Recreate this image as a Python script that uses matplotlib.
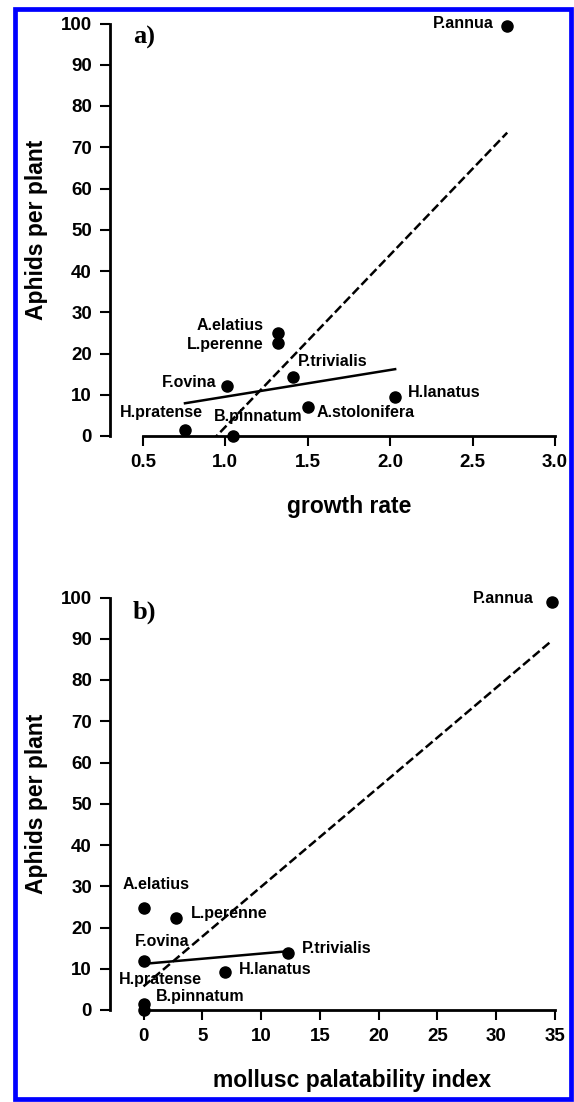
import numpy as np
import matplotlib
matplotlib.use("Agg")
import matplotlib.pyplot as plt
from matplotlib.patches import Rectangle

# panel a) growth rate vs aphids
species_a = ["P.annua", "A.elatius", "L.perenne", "P.trivialis", "F.ovina",
             "H.lanatus", "A.stolonifera", "H.pratense", "B.pinnatum"]
growth_rate = [2.71, 1.32, 1.32, 1.41, 1.01, 2.03, 1.50, 0.755, 1.045]
aphids_a = [99.3, 25.0, 22.5, 14.2, 12.1, 9.5, 7.0, 1.4, 0.0]

# panel b) mollusc palatability vs aphids
species_b = ["P.annua", "A.elatius", "L.perenne", "F.ovina", "P.trivialis",
             "H.lanatus", "H.pratense", "B.pinnatum"]
palatability = [34.75, 0.0, 2.77, 0.0, 12.3, 6.9, 0.0, 0.0]
aphids_b = [99.0, 24.8, 22.4, 11.9, 13.9, 9.3, 1.45, 0.0]

y_ticks = [0, 10, 20, 30, 40, 50, 60, 70, 80, 90, 100]
x_ticks_a = [0.5, 1.0, 1.5, 2.0, 2.5, 3.0]
x_tick_labels_a = ["0.5", "1.0", "1.5", "2.0", "2.5", "3.0"]
x_ticks_b = [0, 5, 10, 15, 20, 25, 30, 35]

# label placement: (dx px, dy px, ha)
label_pos_a = {
    "P.annua": (-13, 3, "right"),
    "A.elatius": (-15, 7, "right"),
    "L.perenne": (-15, -1, "right"),
    "P.trivialis": (5, 16, "left"),
    "F.ovina": (-11, 4, "right"),
    "H.lanatus": (13, 4, "left"),
    "A.stolonifera": (9, -5, "left"),
    "H.pratense": (18, 18, "right"),
    "B.pinnatum": (-19, 19, "left"),
}
label_pos_b = {
    "P.annua": (-18, 3, "right"),
    "A.elatius": (13, 23, "center"),
    "L.perenne": (15, 4, "left"),
    "F.ovina": (-9, 19, "left"),
    "P.trivialis": (14, 4, "left"),
    "H.lanatus": (14, 2, "left"),
    "H.pratense": (17, 25, "center"),
    "B.pinnatum": (12, 14, "left"),
}

W, H = 574, 1102
SANS = "Liberation Sans"
SERIF = "Liberation Serif"


def fit_line(ax, x, y, style):
    x = np.asarray(x)
    y = np.asarray(y)
    k, b = np.polyfit(x, y, 1)
    xs = np.array([x.min(), x.max()])
    ax.plot(xs, k * xs + b, color="black", lw=1.8, linestyle=style, zorder=2)


def panel(fig, bottom_px, xs, ys, names, positions, xlim, xticks, xticklabels, xbounds):
    ax = fig.add_axes([110 / W, (H - bottom_px) / H, 445 / W, 412.5 / H])
    ax.scatter(xs, ys, s=64, color="black", zorder=3, clip_on=False)
    for x, y, name in zip(xs, ys, names):
        dx, dy, ha = positions[name]
        ax.annotate(name, (x, y), xytext=(dx, dy), textcoords="offset pixels",
                    ha=ha, va="center", fontsize=11.5, fontweight="bold",
                    family=SANS, annotation_clip=False)

    # all species (dashed) and without P.annua (solid)
    fit_line(ax, xs, ys, (0, (3.6, 1.5)))
    fit_line(ax, xs[1:], ys[1:], "-")

    ax.set_xlim(xlim)
    ax.set_ylim(0, 100)
    ax.spines["top"].set_visible(False)
    ax.spines["right"].set_visible(False)
    ax.spines["left"].set_linewidth(2)
    ax.spines["bottom"].set_linewidth(2)
    ax.spines["bottom"].set_bounds(*xbounds)
    ax.set_yticks(y_ticks)
    ax.set_xticks(xticks)
    ax.set_xticklabels(xticklabels)
    ax.tick_params(direction="out", length=7, width=1.5, pad=6,
                   labelsize=13.5, color="black")
    for t in ax.get_xticklabels() + ax.get_yticklabels():
        t.set_fontweight("bold")
        t.set_family(SANS)
    return ax


def main():
    fig = plt.figure(figsize=(W / 100, H / 100), dpi=100)

    panel(fig, 436, np.array(growth_rate), np.array(aphids_a), species_a,
          label_pos_a, (0.3, 3.0), x_ticks_a, x_tick_labels_a, (0.5, 3.0))
    panel(fig, 1010, np.array(palatability), np.array(aphids_b), species_b,
          label_pos_b, (-2.85, 35), x_ticks_b, [str(t) for t in x_ticks_b], (0, 35))

    fig.text(133 / W, 1 - 37 / H, "a)", fontsize=19, fontweight="bold",
             family=SERIF, ha="left", va="center")
    fig.text(133 / W, 1 - 612 / H, "b)", fontsize=19, fontweight="bold",
             family=SERIF, ha="left", va="center")

    for yc in (230, 804):
        fig.text(37 / W, 1 - yc / H, "Aphids per plant", rotation=90,
                 fontsize=16.5, fontweight="bold", family=SANS,
                 ha="center", va="center")
    fig.text(349 / W, 1 - 507 / H, "growth rate", fontsize=16.5,
             fontweight="bold", family=SANS, ha="center", va="center")
    fig.text(352 / W, 1 - 1080 / H, "mollusc palatability index", fontsize=16.5,
             fontweight="bold", family=SANS, ha="center", va="center")

    # blue frame round the figure
    fig.add_artist(Rectangle((15 / W, 3 / H), 556 / W, 1 - 11.5 / H,
                             transform=fig.transFigure, fill=False,
                             edgecolor="#0000ff", linewidth=3.4))

    fig.savefig("out.png", dpi=100)


if __name__ == "__main__":
    main()
